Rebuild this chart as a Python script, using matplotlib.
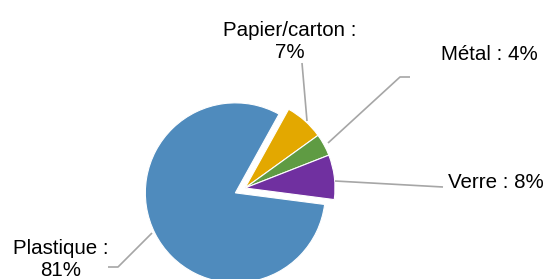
import matplotlib.pyplot as plt

labels = ["Papier/carton :\n7%", "Métal : 4%", "Verre : 8%", "Plastique :\n81%"]
values = [7, 4, 8, 81]
colors = ["#E3A800", "#5F9B43", "#7030A0", "#4F8BBD"]

W, H = 547, 279
R = 90
# explode is in data units here (pie radius is in pixels)
explode = [0, 0, 0, 0.12 * R]

fig = plt.figure(figsize=(W / 100, H / 100), dpi=100)
ax = fig.add_axes([0, 0, 1, 1])

# pixel coords, y up
ax.pie(values, colors=colors, explode=explode, startangle=61, counterclock=False,
       center=(245, H - 188), radius=R, frame=True,
       wedgeprops=dict(edgecolor="white", linewidth=0.8))
ax.set_xlim(0, W)
ax.set_ylim(0, H)
ax.set_aspect("equal")
ax.axis("off")

lc = "#A6A6A6"
def leader(pts):
    xs = [p[0] for p in pts]
    ys = [H - p[1] for p in pts]
    ax.plot(xs, ys, color=lc, lw=1.2, solid_capstyle="butt")

leader([(302, 63), (307, 121)])
leader([(410, 77), (400, 77), (328, 143)])
leader([(335, 181), (443, 187)])
leader([(108, 267), (118, 267), (152, 233)])

font = dict(family="Liberation Sans", fontsize=14.8, color="#000000")
ax.text(290, H - 41, labels[0], ha="center", va="center", linespacing=1.2, **font)
ax.text(489, H - 55, labels[1], ha="center", va="center", **font)
ax.text(496, H - 183, labels[2], ha="center", va="center", **font)
ax.text(61, H - 259, labels[3], ha="center", va="center", linespacing=1.2, **font)

fig.savefig("out.png", dpi=100)
